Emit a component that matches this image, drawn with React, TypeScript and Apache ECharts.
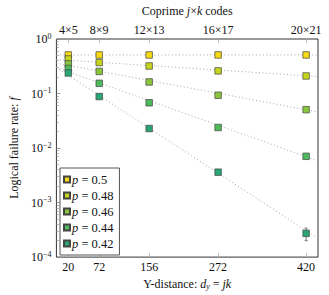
import React, { useEffect, useRef } from "react";
import * as echarts from "echarts";

// Y-distance of each coprime j×k code
const distances = [20, 72, 156, 272, 420];
const codeLabels = ["4×5", "8×9", "12×13", "16×17", "20×21"];

// physical error rates p
const pLabels = ["0.5", "0.48", "0.46", "0.44", "0.42"];

// logical failure rate per p, one entry per code distance
const rateP050 = [0.51, 0.51, 0.51, 0.51, 0.51];
const rateP048 = [0.43, 0.37, 0.32, 0.26, 0.21];
const rateP046 = [0.35, 0.254, 0.163, 0.093, 0.0506];
const rateP044 = [0.288, 0.154, 0.0677, 0.0238, 0.00706];
const rateP042 = [0.238, 0.088, 0.0228, 0.00361, 0.000273];
const rates = [rateP050, rateP048, rateP046, rateP044, rateP042];

// exponential fit lines: value at d = 0 and at d = 440
const fitStart = [0.51, 0.42, 0.36, 0.3, 0.3];
const fitEnd = [0.51, 0.205, 0.046, 0.0058, 0.00022];

// error bar on the p = 0.42, d = 420 point: [d, low, high]
const errorBars = [[420, 0.0002, 0.00034]];

const colors = ["#f6da12", "#c6d51e", "#8ac63c", "#4dbb5c", "#2aa676"];

const minorTicks: number[] = [];
for (let e = -4; e < 0; e++) {
  for (let m = 2; m <= 9; m++) minorTicks.push(m * Math.pow(10, e));
}

const FONT = "'Liberation Serif', 'DejaVu Serif', serif";
const X_MIN = 0;
const X_MAX = 440;

export default function App() {
  const ref = useRef<HTMLDivElement>(null);

  useEffect(() => {
    if (!ref.current) return;
    const chart = echarts.init(ref.current, undefined, { renderer: "svg" });

    const fitSeries = pLabels.map((p, i) => ({
      name: "fit " + p,
      type: "line",
      xAxisIndex: 0,
      yAxisIndex: 0,
      data: [
        [X_MIN, fitStart[i]],
        [X_MAX, fitEnd[i]],
      ],
      symbol: "none",
      silent: true,
      z: 1,
      lineStyle: { color: "#a8a8a8", width: 1, type: [1, 2.5] },
    }));

    const pointSeries = pLabels.map((p, i) => ({
      name: p,
      type: "scatter",
      xAxisIndex: 0,
      yAxisIndex: 0,
      data: distances.map((d, j) => [d, rates[i][j]]),
      symbol: "rect",
      symbolSize: 6.5,
      z: 5,
      itemStyle: {
        color: colors[i],
        borderColor: "#444",
        borderWidth: 0.7,
        opacity: 1,
      },
    }));

    const errorSeries = {
      name: "error",
      type: "custom",
      xAxisIndex: 0,
      yAxisIndex: 0,
      data: errorBars,
      z: 4,
      silent: true,
      encode: { x: 0, y: [1, 2] },
      renderItem: (_params: any, api: any) => {
        const x = api.value(0);
        const lo = api.coord([x, api.value(1)]);
        const hi = api.coord([x, api.value(2)]);
        const style = { stroke: "#777", lineWidth: 1 };
        return {
          type: "group",
          children: [
            { type: "line", shape: { x1: lo[0], y1: lo[1], x2: hi[0], y2: hi[1] }, style },
            { type: "line", shape: { x1: lo[0] - 1.5, y1: lo[1], x2: lo[0] + 1.5, y2: lo[1] }, style },
            { type: "line", shape: { x1: hi[0] - 1.5, y1: hi[1], x2: hi[0] + 1.5, y2: hi[1] }, style },
          ],
        };
      },
    };

    const tickStyle = { color: "#b0b0b0", width: 0.8 };

    chart.setOption({
      animation: false,
      backgroundColor: "#ffffff",
      textStyle: { fontFamily: FONT, color: "#111" },
      grid: {
        left: 52,
        right: 11,
        top: 39,
        bottom: 36,
        show: true,
        borderColor: "#333",
        borderWidth: 1,
        backgroundColor: "transparent",
      },
      legend: {
        data: pLabels,
        orient: "vertical",
        left: 60,
        top: 168,
        padding: [4, 6, 4, 3],
        itemGap: 1,
        itemWidth: 6,
        itemHeight: 6,
        icon: "rect",
        backgroundColor: "#fff",
        borderColor: "#555",
        borderWidth: 1,
        borderRadius: 0,
        formatter: (name: string) => "{i|p} = " + name,
        textStyle: {
          fontFamily: FONT,
          fontSize: 12.5,
          lineHeight: 15,
          color: "#111",
          padding: [0, 0, 0, -3],
          rich: { i: { fontStyle: "italic", fontFamily: FONT, fontSize: 12.5 } },
        },
      },
      xAxis: [
        {
          type: "value",
          position: "bottom",
          min: X_MIN,
          max: X_MAX,
          name: "Y-distance: {i|d}{sub|y} = {i|jk}",
          nameLocation: "middle",
          nameGap: 20,
          nameTextStyle: {
            fontFamily: FONT,
            fontSize: 12,
            color: "#111",
            rich: {
              i: { fontStyle: "italic", fontFamily: FONT, fontSize: 12 },
              sub: { fontStyle: "italic", fontFamily: FONT, fontSize: 8, verticalAlign: "bottom", padding: [4, 0, 0, 0] },
            },
          },
          axisLine: { show: false },
          axisTick: { show: true, inside: true, length: 4, customValues: distances, lineStyle: tickStyle },
          axisLabel: {
            customValues: distances,
            fontFamily: FONT,
            fontSize: 12,
            color: "#111",
            margin: 4,
          },
          splitLine: { show: false },
        },
        {
          type: "value",
          position: "top",
          min: X_MIN,
          max: X_MAX,
          name: "Coprime {i|j}×{i|k} codes",
          nameLocation: "middle",
          nameGap: 22,
          nameTextStyle: {
            fontFamily: FONT,
            fontSize: 12,
            color: "#111",
            rich: { i: { fontStyle: "italic", fontFamily: FONT, fontSize: 12 } },
          },
          axisLine: { show: false },
          axisTick: { show: true, inside: true, length: 4, customValues: distances, lineStyle: tickStyle },
          axisLabel: {
            customValues: distances,
            formatter: (v: number) => {
              const k = distances.indexOf(Math.round(v));
              return k >= 0 ? codeLabels[k] : "";
            },
            fontFamily: FONT,
            fontSize: 12,
            color: "#111",
            margin: 3,
          },
          splitLine: { show: false },
        },
      ],
      yAxis: [
        {
          type: "log",
          logBase: 10,
          min: 1e-4,
          max: 1,
          splitNumber: 4,
          name: "Logical failure rate: {i|f}",
          nameLocation: "middle",
          nameGap: 27,
          nameTextStyle: {
            fontFamily: FONT,
            fontSize: 12,
            color: "#111",
            rich: { i: { fontStyle: "italic", fontFamily: FONT, fontSize: 12 } },
          },
          axisLine: { show: false },
          axisTick: { show: true, inside: true, length: 4, lineStyle: { color: "#888", width: 0.8 } },
          axisLabel: {
            fontFamily: FONT,
            fontSize: 12,
            color: "#111",
            margin: 5,
            formatter: (v: number) => {
              const e = Math.round(Math.log10(v));
              return "10{sup|" + (e < 0 ? "−" + -e : String(e)) + "}";
            },
            rich: {
              sup: { fontFamily: FONT, fontSize: 8, verticalAlign: "top", padding: [0, 0, 6, 0] },
            },
          },
          splitLine: { show: false },
        },
        {
          type: "log",
          logBase: 10,
          min: 1e-4,
          max: 1,
          position: "left",
          axisLine: { show: false },
          axisTick: { show: true, inside: true, length: 2.5, customValues: minorTicks, lineStyle: { color: "#999", width: 0.7 } },
          axisLabel: { show: false },
          splitLine: { show: false },
        },
      ],
      series: [...fitSeries, errorSeries, ...pointSeries],
    });

    return () => chart.dispose();
  }, []);

  return (
    <div
      ref={ref}
      style={{ position: "fixed", left: 0, top: 0, width: 329, height: 295, background: "#fff" }}
    />
  );
}
